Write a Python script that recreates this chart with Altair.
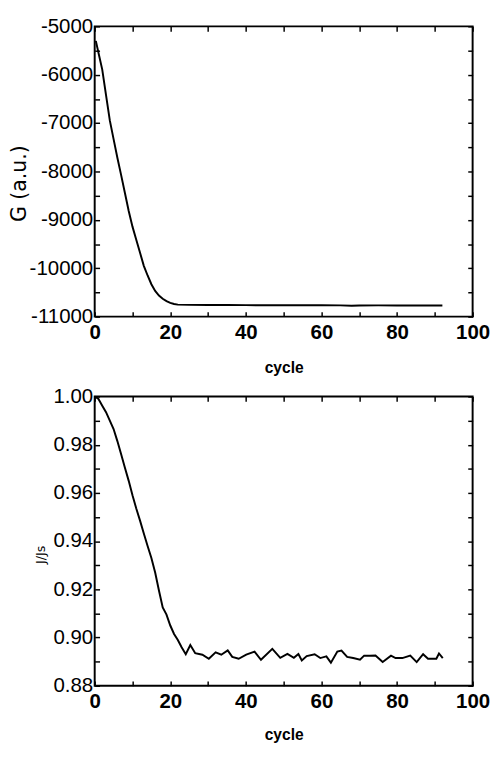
import altair as alt
import pandas as pd

# ---- data ----
cycle_g = [0.3, 1, 2, 3, 4, 5, 6, 7, 8, 9, 10, 11, 12, 13, 14, 15, 16, 17, 18, 19, 20, 21, 22,
           25, 30, 35, 40, 45, 50, 55, 60, 65, 68, 70, 75, 80, 85, 90, 92]
g_vals = [-5300, -5545, -5895, -6420, -6945, -7330, -7715, -8075, -8445, -8815, -9140, -9410,
          -9680, -9950, -10150, -10330, -10470, -10565, -10630, -10680, -10715, -10740, -10752,
          -10757, -10760, -10758, -10762, -10765, -10764, -10766, -10765, -10768, -10775,
          -10770, -10768, -10770, -10771, -10770, -10771]

cycle_j = [0, 1, 2, 3, 4, 5, 6, 7, 8, 9, 10, 11, 12, 13, 14, 15, 16, 17, 18, 19, 20, 21, 22, 23,
           24.1, 25.3, 26.6, 28.5, 30.2, 32.0, 33.5, 35.2, 36.4, 38.1, 40.1, 42.3, 44.0, 47.0,
           49.1, 51.0, 52.7, 53.9, 54.8, 56.1, 58.2, 59.7, 61.3, 62.5, 64.2, 65.3, 66.8, 68.4,
           70.2, 71.3, 72.8, 74.3, 76.2, 78.4, 79.6, 81.4, 83.5, 85.2, 86.9, 88.2, 90.4, 91.1, 92.1]
j_vals = [1.0000, 0.9990, 0.9962, 0.9935, 0.9900, 0.9865, 0.9815, 0.9760, 0.9704, 0.9650,
          0.9590, 0.9535, 0.9485, 0.9432, 0.9380, 0.9330, 0.9270, 0.9195, 0.9125, 0.9095,
          0.9050, 0.9015, 0.8990, 0.8960,
          0.8931, 0.8969, 0.8935, 0.8929, 0.8912, 0.8939, 0.8929, 0.8947, 0.8920, 0.8912,
          0.8929, 0.8942, 0.8908, 0.8953, 0.8916, 0.8932, 0.8916, 0.8932, 0.8905, 0.8923,
          0.8931, 0.8915, 0.8922, 0.8896, 0.8942, 0.8946, 0.8920, 0.8915, 0.8908, 0.8925,
          0.8925, 0.8926, 0.8899, 0.8925, 0.8915, 0.8915, 0.8925, 0.8898, 0.8931, 0.8912,
          0.8912, 0.8934, 0.8915]

x_ticks = [0, 10, 20, 30, 40, 50, 60, 70, 80, 90, 100]
g_ticks = [-11000, -10500, -10000, -9500, -9000, -8500, -8000, -7500, -7000, -6500, -6000,
           -5500, -5000]
j_ticks = [0.88, 0.89, 0.90, 0.91, 0.92, 0.93, 0.94, 0.95, 0.96, 0.97, 0.98, 0.99, 1.00]

df_g = pd.DataFrame({"cycle": cycle_g, "G": g_vals})
df_j = pd.DataFrame({"cycle": cycle_j, "J": j_vals})

LABEL_FONT = "Liberation Sans Narrow, Liberation Sans, Arial"
TICK = 5
W = 388


def panel(df, ycol, ydomain, yticks, ylabel_expr, ytitle, ytitle_font, ytitle_size,
          ytitle_x, ytitle_y, height, xtitle_y):
    xscale = alt.Scale(domain=[0, 100], nice=False, zero=False)
    yscale = alt.Scale(domain=ydomain, nice=False, zero=False)
    common = dict(grid=False, domain=False, tickSize=TICK, offset=-TICK, tickColor="black",
                  tickWidth=1.5, labelOverlap=False, labelColor="black", labelFlush=False)
    x_main = alt.X("cycle:Q", scale=xscale, axis=alt.Axis(
        orient="bottom", values=x_ticks, title="cycle",
        labelExpr="datum.value % 20 == 0 ? '' + datum.value : ''",
        labelFont=LABEL_FONT, labelFontSize=21, labelFontWeight="bold", labelPadding=5,
        titleFont="Liberation Sans", titleFontSize=16, titleFontWeight="bold",
        titleColor="black", titleBaseline="middle", titleX=W / 2, titleY=xtitle_y,
        **common))
    y_main = alt.Y(f"{ycol}:Q", scale=yscale, axis=alt.Axis(
        orient="left", values=yticks, title=ytitle, labelExpr=ylabel_expr,
        labelFont=LABEL_FONT, labelFontSize=21, labelPadding=2, labelBaseline="middle",
        titleFont=ytitle_font, titleFontSize=ytitle_size, titleFontWeight="normal",
        titleColor="black", titleAngle=270, titleBaseline="middle", titleAlign="center",
        titleX=ytitle_x, titleY=ytitle_y, **common))
    x_mirror = alt.X("cycle:Q", scale=xscale, axis=alt.Axis(
        orient="top", values=x_ticks, title=None, labels=False, **common))
    y_mirror = alt.Y(f"{ycol}:Q", scale=yscale, axis=alt.Axis(
        orient="right", values=yticks, title=None, labels=False, **common))
    line = alt.Chart(df).mark_line(color="black", strokeWidth=2).encode(x=x_main, y=y_main)
    mirror = alt.Chart(df).mark_line(strokeOpacity=0).encode(x=x_mirror, y=y_mirror)
    return (alt.layer(line, mirror)
            .resolve_axis(x="independent", y="independent")
            .properties(width=W, height=height))


top = panel(df_g, "G", [-11000, -5000], g_ticks,
            "datum.value % 1000 == 0 ? '' + datum.value : ''",
            "G (a.u.)", "DejaVu Sans", 21, -82, 161, 298, 57)
bottom = panel(df_j, "J", [0.88, 1.00], j_ticks,
               "round(datum.value * 100) % 2 == 0 ? format(datum.value, '.2f') : ''",
               "J/Js", "DejaVu Sans", 13, -61, 162, 297, 55)

chart = (alt.vconcat(top, bottom, spacing=82, bounds="flush")
         .properties(padding={"left": 0, "top": -3, "right": 5, "bottom": -6})
         .configure(background="white")
         .configure_view(stroke="black", strokeWidth=2))

chart.save("out.html", embed_options={"renderer": "svg", "actions": False})
